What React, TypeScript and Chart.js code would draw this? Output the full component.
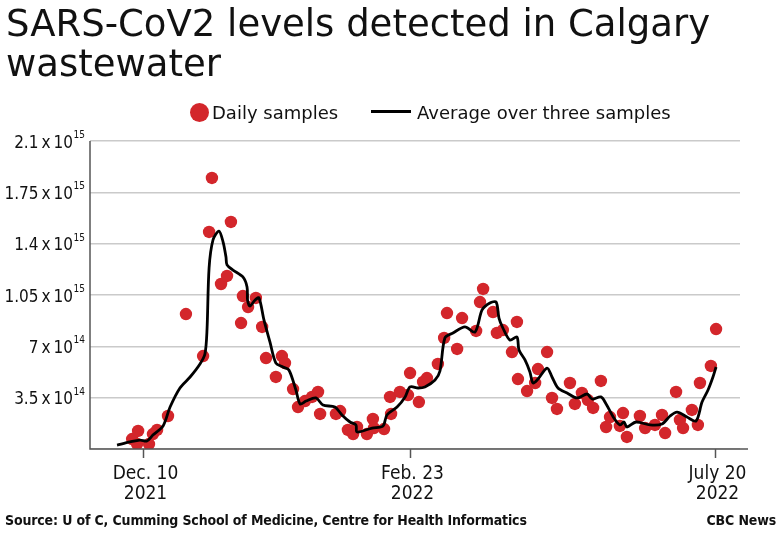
import React, { useEffect, useRef } from "react";
import { Chart, registerables } from "chart.js";

Chart.register(...registerables);

// Daily samples (x: position along the sample timeline, y: copies in units of 10^14)
const sampleX = [16.2, 18.1, 18.5, 22.7, 24.2, 25.8, 30.0, 36.9, 43.5, 45.8, 46.9, 50.4, 52.7, 54.2, 58.1, 58.8, 60.8, 63.8, 66.2, 67.7,
  71.5, 73.8, 75.0, 78.1, 80.0, 82.7, 85.4, 87.7, 88.5, 94.6, 96.2, 99.2, 101.2, 102.7, 106.5, 108.8, 109.2, 113.1, 115.4, 115.8,
  119.2, 122.3, 123.1, 126.5, 128.1, 129.6, 133.8, 136.2, 137.3, 141.2, 143.1, 148.5, 150.0, 151.2, 155.0, 156.5, 158.8, 162.3, 164.2, 164.6,
  168.1, 171.2, 172.3, 175.8, 177.7, 179.6, 184.6, 186.5, 189.2, 191.5, 193.5, 196.5, 198.5, 200.0, 203.8, 205.0, 206.5, 211.5, 213.5, 217.3,
  220.0, 221.2, 225.4, 226.9, 228.1, 231.5, 233.8, 234.6, 238.8, 240.8];
const sampleY = [0.68, 0.34, 1.23, 0.34, 1.02, 1.30, 2.25, 9.20, 6.34, 14.80, 18.48, 11.25, 11.80, 15.48, 8.59, 10.43, 9.68, 10.30, 8.32, 6.20,
  4.91, 6.34, 5.86, 4.09, 2.86, 3.27, 3.55, 3.89, 2.39, 2.39, 2.59, 1.30, 1.02, 1.50, 1.02, 2.05, 1.43, 1.36, 3.55, 2.39,
  3.89, 3.68, 5.18, 3.20, 4.57, 4.84, 5.80, 7.57, 9.27, 6.82, 8.93, 8.05, 10.02, 10.91, 9.34, 7.91, 8.11, 6.61, 8.66, 4.77,
  3.95, 4.50, 5.45, 6.61, 3.48, 2.73, 4.50, 3.07, 3.82, 3.34, 2.80, 4.64, 1.50, 2.18, 1.57, 2.45, 0.82, 2.25, 1.43, 1.64,
  2.32, 1.09, 3.89, 1.98, 1.43, 2.66, 1.64, 4.50, 5.66, 8.18];

// Average over three samples
const avgX = [10.4, 15.4, 19.2, 21.9, 24.2, 28.1, 30.8, 34.6, 38.5, 42.3, 44.2, 45.0, 45.8, 47.3, 49.6, 51.2, 52.3, 52.7, 55.0, 58.8,
  60.4, 60.6, 61.5, 63.5, 65.0, 66.9, 69.2, 71.5, 74.2, 76.5, 79.2, 80.8, 83.1, 86.9, 89.6, 94.2, 96.9, 100.0, 102.3, 102.7,
  108.5, 112.7, 114.2, 118.1, 121.2, 123.1, 126.2, 128.8, 132.7, 134.6, 136.5, 139.6, 144.2, 148.1, 150.8, 153.8, 156.2, 157.3, 158.8, 161.5,
  164.2, 165.0, 167.3, 169.2, 170.4, 172.3, 175.8, 177.7, 180.0, 183.5, 187.3, 191.2, 193.1, 196.5, 198.5, 201.5, 203.8, 205.4, 206.5, 210.0,
  215.4, 220.0, 223.1, 225.8, 229.6, 233.1, 235.4, 237.7, 239.6, 240.8];
const avgY = [0.27, 0.48, 0.61, 0.55, 0.95, 1.57, 2.86, 4.16, 4.91, 5.80, 6.48, 8.11, 12.34, 14.25, 14.86, 14.11, 13.09, 12.55, 12.20, 11.73,
  11.05, 10.16, 9.75, 10.16, 10.30, 8.80, 7.30, 5.86, 5.59, 5.39, 4.02, 3.07, 3.27, 3.48, 3.00, 2.86, 2.32, 1.84, 1.64, 1.16,
  1.43, 1.57, 2.32, 2.86, 3.55, 4.23, 4.16, 4.23, 4.70, 5.32, 7.57, 7.91, 8.32, 7.98, 9.48, 9.95, 10.02, 8.93, 8.25, 7.43,
  7.64, 6.75, 6.07, 5.25, 4.50, 4.77, 5.52, 4.91, 4.16, 3.82, 3.48, 3.75, 3.41, 3.55, 3.07, 2.11, 1.64, 1.84, 1.50, 1.84,
  1.64, 1.70, 2.25, 2.52, 2.18, 1.91, 3.20, 4.02, 4.91, 5.59];

const xTickPos = [20.4, 123.1, 240.4];
const xTickLine1 = ["Dec. 10", "Feb. 23", "July 20"];
const xTickLine2 = ["2021", "2022", "2022"];

const yTickVals = [3.5, 7, 10.5, 14, 17.5, 21];
const yTickBase = ["3.5", "7", "1.05", "1.4", "1.75", "2.1"];
const yTickExp = ["14", "14", "15", "15", "15", "15"];

const RED = "#d3262b";
const COND = '"DejaVu Sans Condensed", "DejaVu Sans", sans-serif';

const axisPlugin = {
  id: "axisPlugin",
  afterDraw(chart: any) {
    const ctx = chart.ctx as CanvasRenderingContext2D;
    const { left, right, top, bottom } = chart.chartArea;
    const xs = chart.scales.x;
    const ys = chart.scales.y;
    ctx.save();
    ctx.strokeStyle = "#555";
    ctx.lineWidth = 1.5;
    ctx.beginPath();
    ctx.moveTo(left, top);
    ctx.lineTo(left, bottom);
    ctx.lineTo(right + 8, bottom);
    ctx.stroke();
    // x ticks
    ctx.fillStyle = "#111";
    ctx.textAlign = "center";
    ctx.textBaseline = "alphabetic";
    xTickPos.forEach((v, i) => {
      const px = Math.round(xs.getPixelForValue(v)) + 0.5;
      ctx.beginPath();
      ctx.moveTo(px, bottom);
      ctx.lineTo(px, bottom + 9);
      ctx.stroke();
      ctx.font = `19px ${COND}`;
      ctx.fillText(xTickLine1[i], px + 2, bottom + 30);
      ctx.fillText(xTickLine2[i], px + 2, bottom + 50);
    });
    // y labels
    yTickVals.forEach((v, i) => {
      const py = ys.getPixelForValue(v);
      ctx.textAlign = "right";
      ctx.font = `10px ${COND}`;
      const ew = ctx.measureText(yTickExp[i]).width;
      ctx.fillText(yTickExp[i], 85, py - 3);
      ctx.font = `17px ${COND}`;
      ctx.fillText(`${yTickBase[i]}\u2009x\u200910`, 85 - ew - 0.5, py + 6.5);
    });
    ctx.restore();
  },
};

export default function App() {
  const ref = useRef<HTMLCanvasElement | null>(null);
  useEffect(() => {
    if (!ref.current) return;
    const samples = sampleX.map((x, i) => ({ x, y: sampleY[i] }));
    const avg = avgX.map((x, i) => ({ x, y: avgY[i] }));
    const chart = new Chart(ref.current, {
      type: "scatter",
      data: {
        datasets: [
          {
            type: "line",
            label: "Average over three samples",
            data: avg,
            borderColor: "#000",
            borderWidth: 2.8,
            pointRadius: 0,
            tension: 0.3,
            fill: false,
            order: 0,
          } as any,
          {
            type: "scatter",
            label: "Daily samples",
            data: samples,
            backgroundColor: RED,
            borderWidth: 0,
            pointRadius: 6.2,
            order: 1,
          } as any,
        ],
      },
      options: {
        responsive: false,
        animation: false,
        devicePixelRatio: 1,
        layout: { padding: { left: 90, top: 141, right: 40, bottom: 85 } },
        plugins: { legend: { display: false }, tooltip: { enabled: false } },
        scales: {
          x: {
            type: "linear",
            min: 0,
            max: 250,
            grid: { display: false, drawTicks: false },
            border: { display: false },
            ticks: { display: false },
          },
          y: {
            min: 0,
            max: 21,
            ticks: { display: false, stepSize: 3.5 },
            grid: { color: "#cacaca", lineWidth: 1.5, drawTicks: false },
            border: { display: false },
          },
        },
      } as any,
      plugins: [axisPlugin],
    });
    return () => chart.destroy();
  }, []);

  const txt: React.CSSProperties = { position: "absolute", whiteSpace: "nowrap", color: "#111", margin: 0 };
  return (
    <div style={{ position: "absolute", left: 0, top: 0, width: 780, height: 534, background: "#fff", overflow: "hidden" }}>
      <canvas ref={ref} width={780} height={534} style={{ position: "absolute", left: 0, top: 0, display: "block" }} />
      <div style={{ ...txt, left: 6, top: 4, fontFamily: '"DejaVu Sans", sans-serif', fontSize: 37, lineHeight: "40px" }}>
        SARS-CoV2 levels detected in Calgary
        <br />
        wastewater
      </div>
      <div style={{ position: "absolute", left: 190, top: 102.5, width: 19, height: 19, borderRadius: "50%", background: RED }} />
      <div style={{ ...txt, left: 212, top: 104, fontFamily: '"DejaVu Sans", sans-serif', fontSize: 18, lineHeight: "18px" }}>
        Daily samples
      </div>
      <div style={{ position: "absolute", left: 371, top: 110, width: 40, height: 3, background: "#000" }} />
      <div style={{ ...txt, left: 417, top: 104, fontFamily: '"DejaVu Sans", sans-serif', fontSize: 18, lineHeight: "18px" }}>
        Average over three samples
      </div>
      <div style={{ ...txt, left: 5, top: 513, fontFamily: COND, fontWeight: 700, fontSize: 14, lineHeight: "14px", letterSpacing: "-0.15px" }}>
        Source: U of C, Cumming School of Medicine, Centre for Health Informatics
      </div>
      <div style={{ ...txt, right: 4, top: 513, fontFamily: COND, fontWeight: 700, fontSize: 14, lineHeight: "14px", letterSpacing: "-0.15px" }}>
        CBC News
      </div>
    </div>
  );
}
